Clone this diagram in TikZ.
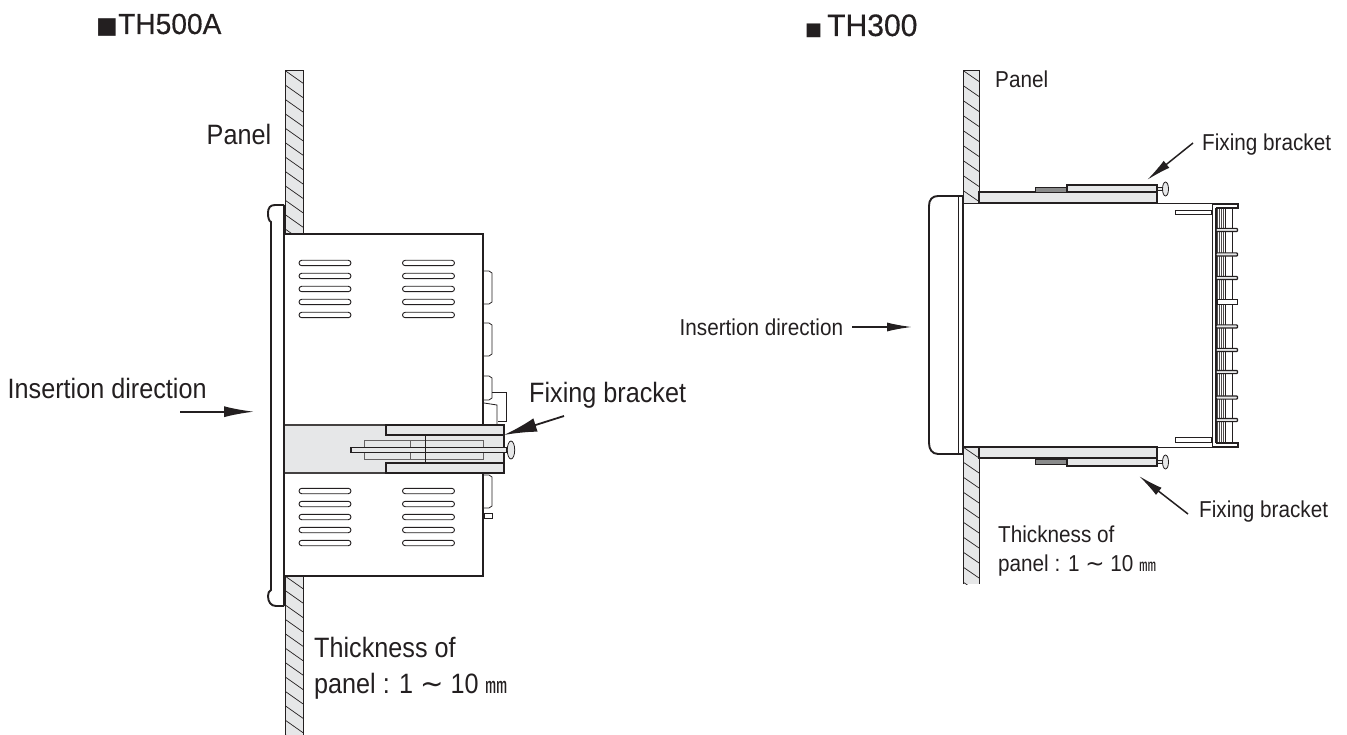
\documentclass[tikz,border=0pt]{standalone}
\usepackage{fontspec}
\setmainfont{Liberation Sans}
\newfontfamily\narrowf[FakeStretch=0.9]{Liberation Sans}
\newfontfamily\headf[FakeStretch=0.97,FakeBold=0.4]{Liberation Sans}
\newfontfamily\cjk{Noto Sans CJK KR}
\newfontfamily\symf{DejaVu Sans}
\usetikzlibrary{arrows.meta}
\definecolor{fillg}{HTML}{E6E7E8}
\definecolor{ink}{HTML}{231F20}
\tikzset{
 big/.style={font=\narrowf\fontsize{28}{36}\selectfont,inner sep=0,anchor=base west,text=ink,align=left},
 small/.style={font=\narrowf\fontsize{23}{29}\selectfont,inner sep=0,anchor=base west,text=ink,align=left},
 headl/.style={font=\headf\fontsize{29}{30}\selectfont,inner sep=0,anchor=base west,text=ink},
 thick1/.style={draw=ink,line width=1.9pt},
 med/.style={draw=ink,line width=1.2pt},
 thin1/.style={draw=ink,line width=.8pt},
 arr/.style={draw=ink,line width=1.8pt,-{Latex[length=30pt,width=11pt]}},
 arrs/.style={draw=ink,line width=1.5pt,-{Latex[length=25pt,width=9pt]}},
 slot/.style={draw=ink,line width=.9pt,rounded corners=2.7pt,fill=white},
}
\newcommand{\hatchpanel}[6]{% x1,x2,y1,y2,spacing,rise
 \begin{scope}
 \clip (#1,#3) rectangle (#2,#4);
 \fill[fillg] (#1,#3) rectangle (#2,#4);
 \foreach \k in {-2,...,30}{
  \draw[ink,line width=.7pt] (#1,#3+\k*#5) -- ++(#2-#1,#6);
 }
 \end{scope}
 \draw[ink,line width=.9pt] (#1,#4) -- (#1,#3) -- (#2,#3) -- (#2,#4);
}
\begin{document}
\begin{tikzpicture}[x=1pt,y=-1pt]
\useasboundingbox (0,0) rectangle (1347,735);
% ---------- TH500A
\node[inner sep=0,anchor=base west,text=ink,font=\symf\fontsize{23}{23}\selectfont] (s1) at (96,34) {■};
\node[headl] (t1) at (118,34) {TH500A};
\hatchpanel{285}{303}{70.5}{234}{14.4}{12.7}
\hatchpanel{285}{303}{576}{735}{14.4}{12.7}
% bezel
\draw[thick1] (284,205) -- (275,205) .. controls (270,205) and (268,208) .. (268,213) .. controls (268,218) and (269,221) .. (271,222) -- (271,590) .. controls (269,591) and (268,593) .. (268,596) .. controls (268,602) and (271,606) .. (276,606) -- (284,606);
\draw[thick1] (284,205) -- (284,606);
% right connectors
\foreach \a/\b in {271/304,323/356,376/400,475/508}{
 \draw[thin1] (484,\a) -- (489,\a) -- (492,\a+2) -- (492,\b-2) -- (489,\b) -- (484,\b);
}
\draw[thin1] (492,392) -- (506,392) -- (506,421) -- (498,421);
\draw[thin1] (484,403) -- (497,405) -- (497,425);
\draw[thin1] (484,513) rectangle (492,518);
% body
\draw[thick1] (284,234) -- (484,234);
\draw[line width=2.8pt,ink] (483,234) -- (483,576);
\draw[thick1] (284,576) -- (484,576);
\foreach \x in {299,402.5}{
 \foreach \y in {263,276,289,302,315,491,504,517,530,543}{
  \draw[slot] (\x,\y-2.7) rectangle (\x+52,\y+2.7);
 }
}
% bracket
\fill[fillg] (285,425) rectangle (504,473);
\draw[med,draw=ink!85] (285,425) -- (504,425) (285,473) -- (504,473);
\draw[med] (386,425) rectangle (504,435);
\draw[med] (386,463) rectangle (504,473);
\draw[med] (504,425) -- (504,473);
\draw[thin1,draw=ink!70] (364,440) rectangle (483,459);
\draw[thin1,draw=ink!70] (410,440) -- (410,459);
\draw[med,fill=fillg] (351,447.5) rectangle (507,452.5);
\draw[med] (425.5,435) -- (425.5,463);
\draw[thin1,fill=fillg] (511,450) ellipse (3.7 and 9);
\draw[thick1] (284,205) -- (284,606);
% labels
\node[big] (p1) at (206.5,145) {Panel};
\node[big] (i1) at (7.5,398) {Insertion direction};
\node[big] (f1) at (529,402) {Fixing bracket};
\node[big] (k1) at (314,693) {Thickness of\\panel : 1 {\symf∼} 10 {\cjk\fontsize{22}{22}\selectfont ㎜}};
\coordinate (ia) at (180,411.7);
\coordinate (ib) at (254,411.7);
\draw[arr] (ia) -- (ib);
\coordinate (fa) at (564,416);
\coordinate (fb) at (504,435);
\draw[arr,-{Latex[length=33pt,width=14pt]}] (fa) -- (fb);
% ---------- TH300
\node[inner sep=0,anchor=base west,text=ink,font=\symf\fontsize{18}{18}\selectfont] (s2) at (805,36) {■};
\node[headl,font=\headf\fontsize{31}{31}\selectfont] (t2) at (827,36) {TH300};
\hatchpanel{963}{979}{70.5}{204}{15}{11}
\hatchpanel{963}{979}{447}{584}{15}{11}
% bezel
\draw[thick1] (963,196) -- (938,196) .. controls (932,196) and (929,200) .. (929,206) -- (929,443) .. controls (929,449) and (932,454) .. (938,454) -- (963,454);
\draw[thin1] (958,196) -- (958,454);
% brackets
\draw[med,fill=fillg] (979,192) rectangle (1157,203);
\draw[med,fill=fillg] (979,447) rectangle (1157,458);
\draw[thin1,fill=fillg!60!black] (1035,187) rectangle (1067,192);
\draw[med,fill=fillg] (1067,185) rectangle (1157,192);
\draw[thin1,fill=fillg!60!black] (1035,459) rectangle (1067,464);
\draw[med,fill=fillg] (1067,458) rectangle (1157,466);
\draw[thin1,fill=fillg] (1157,187) rectangle (1164,190);
\draw[thin1,fill=fillg] (1157,460.5) rectangle (1164,463.5);
\draw[thin1,fill=fillg] (1165.5,189) ellipse (3 and 7);
\draw[thin1,fill=fillg] (1165.5,462) ellipse (3 and 7);
% body
\draw[thick1] (963,196) -- (963,454);
\draw[thick1] (963,203.5) -- (1157,203.5);
\draw[thick1] (963,447) -- (1157,447);
\draw[thin1] (1157,203.5) -- (1239,203.5) (1157,447) -- (1239,447);
\draw[thin1] (1212,203.5) -- (1212,447);
\draw[thin1,fill=white] (1175,210) rectangle (1211,214);
\draw[thin1,fill=white] (1175,437) rectangle (1211,442);
% terminal
\fill[ink!80] (1216,209) rectangle (1225,443);
\foreach \x in {1218,1220.2,1222.4,1224.2}{\draw[white,line width=.6pt] (\x,209) -- (\x,443);}
\draw[thin1] (1232.5,209) -- (1232.5,443);
\draw[thin1] (1225.5,209) -- (1225.5,443);
\draw[thick1] (1216,208) -- (1216,443);
\draw[thick1] (1213,204) -- (1238,204) -- (1238,208) -- (1216,208);
\draw[thick1] (1216,443) -- (1238,443) -- (1238,447) -- (1213,447);
\foreach \y in {230,254.5,278,326.5,350,372,397.5,420}{
 \draw[med,fill=fillg,rounded corners=.8pt] (1216,\y-1.6) rectangle (1237.5,\y+1.6);
}
\draw[thin1,fill=white] (1217,299.5) rectangle (1237.5,304.5);
% labels
\node[small] (p2) at (995,88) {Panel};
\node[small] (f2) at (1202,151) {Fixing bracket};
\node[small] (f3) at (1199,517) {Fixing bracket};
\node[small] (i2) at (679.5,336) {Insertion direction};
\node[small] (k2) at (998,571) {Thickness of\\panel : 1 {\symf∼} 10 {\cjk\fontsize{17}{17}\selectfont ㎜}};
\coordinate (ja) at (852,327);
\coordinate (jb) at (912,327);
\draw[arrs] (ja) -- (jb);
\coordinate (ga) at (1193,143);
\coordinate (gb) at (1147,180);
\draw[arrs] (ga) -- (gb);
\coordinate (ha) at (1188,514);
\coordinate (hb) at (1139,476);
\draw[arrs] (ha) -- (hb);
\end{tikzpicture}
\end{document}
